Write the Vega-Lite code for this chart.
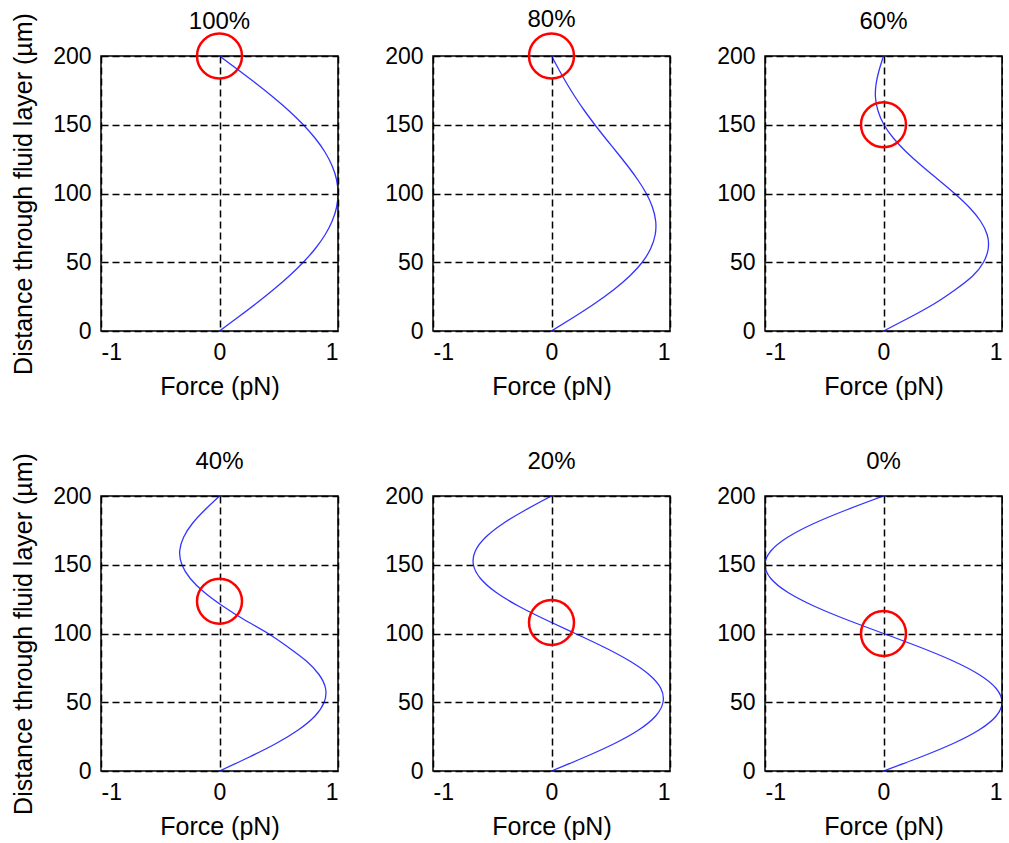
{
  "$schema": "https://vega.github.io/schema/vega-lite/v6.json",
  "autosize": {"type": "pad"},
  "padding": {"left": 10, "top": 6, "right": 0, "bottom": 0},
  "background": "white",
  "columns": 3,
  "spacing": {"row": 165, "column": 95},
  "bounds": "flush",
  "datasets": {
    "curves": [
      {"panel": "100%", "distance": 0, "force": 0}, {"panel": "100%", "distance": 10, "force": 0.156}, {"panel": "100%", "distance": 20, "force": 0.309}, {"panel": "100%", "distance": 30, "force": 0.454}, {"panel": "100%", "distance": 40, "force": 0.588}, {"panel": "100%", "distance": 50, "force": 0.707}, {"panel": "100%", "distance": 60, "force": 0.809}, {"panel": "100%", "distance": 70, "force": 0.891}, {"panel": "100%", "distance": 80, "force": 0.951}, {"panel": "100%", "distance": 90, "force": 0.988}, {"panel": "100%", "distance": 100, "force": 1.0}, {"panel": "100%", "distance": 110, "force": 0.988}, {"panel": "100%", "distance": 120, "force": 0.951}, {"panel": "100%", "distance": 130, "force": 0.891}, {"panel": "100%", "distance": 140, "force": 0.809}, {"panel": "100%", "distance": 150, "force": 0.707}, {"panel": "100%", "distance": 160, "force": 0.588}, {"panel": "100%", "distance": 170, "force": 0.454}, {"panel": "100%", "distance": 180, "force": 0.309}, {"panel": "100%", "distance": 190, "force": 0.156}, {"panel": "100%", "distance": 200, "force": 0},
      {"panel": "80%", "distance": 0, "force": 0}, {"panel": "80%", "distance": 10, "force": 0.187}, {"panel": "80%", "distance": 20, "force": 0.365}, {"panel": "80%", "distance": 30, "force": 0.525}, {"panel": "80%", "distance": 40, "force": 0.66}, {"panel": "80%", "distance": 50, "force": 0.766}, {"panel": "80%", "distance": 60, "force": 0.837}, {"panel": "80%", "distance": 70, "force": 0.875}, {"panel": "80%", "distance": 80, "force": 0.879}, {"panel": "80%", "distance": 90, "force": 0.852}, {"panel": "80%", "distance": 100, "force": 0.8}, {"panel": "80%", "distance": 110, "force": 0.728}, {"panel": "80%", "distance": 120, "force": 0.643}, {"panel": "80%", "distance": 130, "force": 0.551}, {"panel": "80%", "distance": 140, "force": 0.457}, {"panel": "80%", "distance": 150, "force": 0.366}, {"panel": "80%", "distance": 160, "force": 0.28}, {"panel": "80%", "distance": 170, "force": 0.201}, {"panel": "80%", "distance": 180, "force": 0.129}, {"panel": "80%", "distance": 190, "force": 0.063}, {"panel": "80%", "distance": 200, "force": 0},
      {"panel": "60%", "distance": 0, "force": 0}, {"panel": "60%", "distance": 10, "force": 0.224}, {"panel": "60%", "distance": 20, "force": 0.432}, {"panel": "60%", "distance": 30, "force": 0.605}, {"panel": "60%", "distance": 40, "force": 0.752}, {"panel": "60%", "distance": 50, "force": 0.844}, {"panel": "60%", "distance": 60, "force": 0.884}, {"panel": "60%", "distance": 70, "force": 0.875}, {"panel": "60%", "distance": 80, "force": 0.818}, {"panel": "60%", "distance": 90, "force": 0.723}, {"panel": "60%", "distance": 100, "force": 0.6}, {"panel": "60%", "distance": 110, "force": 0.463}, {"panel": "60%", "distance": 120, "force": 0.324}, {"panel": "60%", "distance": 130, "force": 0.195}, {"panel": "60%", "distance": 140, "force": 0.086}, {"panel": "60%", "distance": 150, "force": 0.004}, {"panel": "60%", "distance": 160, "force": -0.046}, {"panel": "60%", "distance": 170, "force": -0.068}, {"panel": "60%", "distance": 180, "force": -0.062}, {"panel": "60%", "distance": 190, "force": -0.036}, {"panel": "60%", "distance": 200, "force": 0},
      {"panel": "40%", "distance": 0, "force": 0}, {"panel": "40%", "distance": 10, "force": 0.248}, {"panel": "40%", "distance": 20, "force": 0.477}, {"panel": "40%", "distance": 30, "force": 0.667}, {"panel": "40%", "distance": 40, "force": 0.806}, {"panel": "40%", "distance": 50, "force": 0.883}, {"panel": "40%", "distance": 60, "force": 0.895}, {"panel": "40%", "distance": 70, "force": 0.841}, {"panel": "40%", "distance": 80, "force": 0.733}, {"panel": "40%", "distance": 90, "force": 0.58}, {"panel": "40%", "distance": 100, "force": 0.41}, {"panel": "40%", "distance": 110, "force": 0.21}, {"panel": "40%", "distance": 120, "force": 0.027}, {"panel": "40%", "distance": 130, "force": -0.129}, {"panel": "40%", "distance": 140, "force": -0.247}, {"panel": "40%", "distance": 150, "force": -0.317}, {"panel": "40%", "distance": 160, "force": -0.336}, {"panel": "40%", "distance": 170, "force": -0.303}, {"panel": "40%", "distance": 180, "force": -0.229}, {"panel": "40%", "distance": 190, "force": -0.122}, {"panel": "40%", "distance": 200, "force": 0},
      {"panel": "20%", "distance": 0, "force": 0}, {"panel": "20%", "distance": 10, "force": 0.278}, {"panel": "20%", "distance": 20, "force": 0.532}, {"panel": "20%", "distance": 30, "force": 0.738}, {"panel": "20%", "distance": 40, "force": 0.879}, {"panel": "20%", "distance": 50, "force": 0.941}, {"panel": "20%", "distance": 60, "force": 0.923}, {"panel": "20%", "distance": 70, "force": 0.825}, {"panel": "20%", "distance": 80, "force": 0.66}, {"panel": "20%", "distance": 90, "force": 0.445}, {"panel": "20%", "distance": 100, "force": 0.2}, {"panel": "20%", "distance": 110, "force": -0.049}, {"panel": "20%", "distance": 120, "force": -0.28}, {"panel": "20%", "distance": 130, "force": -0.469}, {"panel": "20%", "distance": 140, "force": -0.599}, {"panel": "20%", "distance": 150, "force": -0.659}, {"panel": "20%", "distance": 160, "force": -0.643}, {"panel": "20%", "distance": 170, "force": -0.556}, {"panel": "20%", "distance": 180, "force": -0.408}, {"panel": "20%", "distance": 190, "force": -0.216}, {"panel": "20%", "distance": 200, "force": 0},
      {"panel": "0%", "distance": 0, "force": 0}, {"panel": "0%", "distance": 10, "force": 0.309}, {"panel": "0%", "distance": 20, "force": 0.588}, {"panel": "0%", "distance": 30, "force": 0.809}, {"panel": "0%", "distance": 40, "force": 0.951}, {"panel": "0%", "distance": 50, "force": 1.0}, {"panel": "0%", "distance": 60, "force": 0.951}, {"panel": "0%", "distance": 70, "force": 0.809}, {"panel": "0%", "distance": 80, "force": 0.588}, {"panel": "0%", "distance": 90, "force": 0.309}, {"panel": "0%", "distance": 100, "force": 0}, {"panel": "0%", "distance": 110, "force": -0.309}, {"panel": "0%", "distance": 120, "force": -0.588}, {"panel": "0%", "distance": 130, "force": -0.809}, {"panel": "0%", "distance": 140, "force": -0.951}, {"panel": "0%", "distance": 150, "force": -1.0}, {"panel": "0%", "distance": 160, "force": -0.951}, {"panel": "0%", "distance": 170, "force": -0.809}, {"panel": "0%", "distance": 180, "force": -0.588}, {"panel": "0%", "distance": 190, "force": -0.309}, {"panel": "0%", "distance": 200, "force": 0}
    ],
    "markers": [
      {"panel": "100%", "distance": 200, "force": 0},
      {"panel": "80%", "distance": 200, "force": 0},
      {"panel": "60%", "distance": 150, "force": 0},
      {"panel": "40%", "distance": 123.5, "force": 0},
      {"panel": "20%", "distance": 108, "force": 0},
      {"panel": "0%", "distance": 100, "force": 0}
    ]
  },
  "config": {
    "font": "Liberation Sans",
    "view": {"stroke": "black", "strokeWidth": 1.5},
    "axis": {
      "grid": true, "gridColor": "black", "gridDash": [7, 4], "gridWidth": 1.5, "gridOpacity": 1,
      "ticks": false, "domain": false,
      "labelFontSize": 23, "labelColor": "black", "labelPadding": 10,
      "labelExpr": "'' + datum.value",
      "titleFontSize": 25, "titleFontWeight": "normal", "titleColor": "black", "titlePadding": 10
    },
    "axisLeft": {"titlePadding": 16},
    "title": {"fontSize": 24, "fontWeight": "normal", "color": "black", "offset": 28, "baseline": "alphabetic"}
  },
  "concat": [
    {
      "title": {"text": "100%", "dy": 49}, "width": 237, "height": 275,
      "layer": [
        {"data": {"name": "curves"}, "transform": [{"filter": "datum.panel === '100%'"}],
         "mark": {"type": "line", "color": "#0000ff", "strokeWidth": 1.3, "opacity": 0.8, "interpolate": "natural", "clip": true},
         "encoding": {
           "x": {"field": "force", "type": "quantitative", "scale": {"domain": [-1, 1], "nice": false}, "axis": {"values": [-1, 0, 1], "title": "Force (pN)"}},
           "y": {"field": "distance", "type": "quantitative", "scale": {"domain": [0, 200], "nice": false}, "axis": {"values": [0, 50, 100, 150, 200], "title": "Distance through fluid layer (µm)"}},
           "order": {"field": "distance", "type": "quantitative"}}},
        {"data": {"name": "markers"}, "transform": [{"filter": "datum.panel === '100%'"}],
         "mark": {"type": "point", "shape": "circle", "filled": false, "size": 2025, "stroke": "#ff0000", "strokeWidth": 2.5, "opacity": 1},
         "encoding": {"x": {"field": "force", "type": "quantitative"}, "y": {"field": "distance", "type": "quantitative"}}}
      ]
    },
    {
      "title": {"text": "80%", "dy": 31}, "width": 237, "height": 275,
      "layer": [
        {"data": {"name": "curves"}, "transform": [{"filter": "datum.panel === '80%'"}],
         "mark": {"type": "line", "color": "#0000ff", "strokeWidth": 1.3, "opacity": 0.8, "interpolate": "natural", "clip": true},
         "encoding": {
           "x": {"field": "force", "type": "quantitative", "scale": {"domain": [-1, 1], "nice": false}, "axis": {"values": [-1, 0, 1], "title": "Force (pN)"}},
           "y": {"field": "distance", "type": "quantitative", "scale": {"domain": [0, 200], "nice": false}, "axis": {"values": [0, 50, 100, 150, 200], "title": null}},
           "order": {"field": "distance", "type": "quantitative"}}},
        {"data": {"name": "markers"}, "transform": [{"filter": "datum.panel === '80%'"}],
         "mark": {"type": "point", "shape": "circle", "filled": false, "size": 2025, "stroke": "#ff0000", "strokeWidth": 2.5, "opacity": 1},
         "encoding": {"x": {"field": "force", "type": "quantitative"}, "y": {"field": "distance", "type": "quantitative"}}}
      ]
    },
    {
      "title": {"text": "60%", "dy": 17}, "width": 237, "height": 275,
      "layer": [
        {"data": {"name": "curves"}, "transform": [{"filter": "datum.panel === '60%'"}],
         "mark": {"type": "line", "color": "#0000ff", "strokeWidth": 1.3, "opacity": 0.8, "interpolate": "natural", "clip": true},
         "encoding": {
           "x": {"field": "force", "type": "quantitative", "scale": {"domain": [-1, 1], "nice": false}, "axis": {"values": [-1, 0, 1], "title": "Force (pN)"}},
           "y": {"field": "distance", "type": "quantitative", "scale": {"domain": [0, 200], "nice": false}, "axis": {"values": [0, 50, 100, 150, 200], "title": null}},
           "order": {"field": "distance", "type": "quantitative"}}},
        {"data": {"name": "markers"}, "transform": [{"filter": "datum.panel === '60%'"}],
         "mark": {"type": "point", "shape": "circle", "filled": false, "size": 2025, "stroke": "#ff0000", "strokeWidth": 2.5, "opacity": 1},
         "encoding": {"x": {"field": "force", "type": "quantitative"}, "y": {"field": "distance", "type": "quantitative"}}}
      ]
    },
    {
      "title": {"text": "40%", "dy": 49}, "width": 237, "height": 275,
      "layer": [
        {"data": {"name": "curves"}, "transform": [{"filter": "datum.panel === '40%'"}],
         "mark": {"type": "line", "color": "#0000ff", "strokeWidth": 1.3, "opacity": 0.8, "interpolate": "natural", "clip": true},
         "encoding": {
           "x": {"field": "force", "type": "quantitative", "scale": {"domain": [-1, 1], "nice": false}, "axis": {"values": [-1, 0, 1], "title": "Force (pN)"}},
           "y": {"field": "distance", "type": "quantitative", "scale": {"domain": [0, 200], "nice": false}, "axis": {"values": [0, 50, 100, 150, 200], "title": "Distance through fluid layer (µm)"}},
           "order": {"field": "distance", "type": "quantitative"}}},
        {"data": {"name": "markers"}, "transform": [{"filter": "datum.panel === '40%'"}],
         "mark": {"type": "point", "shape": "circle", "filled": false, "size": 2025, "stroke": "#ff0000", "strokeWidth": 2.5, "opacity": 1},
         "encoding": {"x": {"field": "force", "type": "quantitative"}, "y": {"field": "distance", "type": "quantitative"}}}
      ]
    },
    {
      "title": {"text": "20%", "dy": 17}, "width": 237, "height": 275,
      "layer": [
        {"data": {"name": "curves"}, "transform": [{"filter": "datum.panel === '20%'"}],
         "mark": {"type": "line", "color": "#0000ff", "strokeWidth": 1.3, "opacity": 0.8, "interpolate": "natural", "clip": true},
         "encoding": {
           "x": {"field": "force", "type": "quantitative", "scale": {"domain": [-1, 1], "nice": false}, "axis": {"values": [-1, 0, 1], "title": "Force (pN)"}},
           "y": {"field": "distance", "type": "quantitative", "scale": {"domain": [0, 200], "nice": false}, "axis": {"values": [0, 50, 100, 150, 200], "title": null}},
           "order": {"field": "distance", "type": "quantitative"}}},
        {"data": {"name": "markers"}, "transform": [{"filter": "datum.panel === '20%'"}],
         "mark": {"type": "point", "shape": "circle", "filled": false, "size": 2025, "stroke": "#ff0000", "strokeWidth": 2.5, "opacity": 1},
         "encoding": {"x": {"field": "force", "type": "quantitative"}, "y": {"field": "distance", "type": "quantitative"}}}
      ]
    },
    {
      "title": {"text": "0%", "dy": 17}, "width": 237, "height": 275,
      "layer": [
        {"data": {"name": "curves"}, "transform": [{"filter": "datum.panel === '0%'"}],
         "mark": {"type": "line", "color": "#0000ff", "strokeWidth": 1.3, "opacity": 0.8, "interpolate": "natural", "clip": true},
         "encoding": {
           "x": {"field": "force", "type": "quantitative", "scale": {"domain": [-1, 1], "nice": false}, "axis": {"values": [-1, 0, 1], "title": "Force (pN)"}},
           "y": {"field": "distance", "type": "quantitative", "scale": {"domain": [0, 200], "nice": false}, "axis": {"values": [0, 50, 100, 150, 200], "title": null}},
           "order": {"field": "distance", "type": "quantitative"}}},
        {"data": {"name": "markers"}, "transform": [{"filter": "datum.panel === '0%'"}],
         "mark": {"type": "point", "shape": "circle", "filled": false, "size": 2025, "stroke": "#ff0000", "strokeWidth": 2.5, "opacity": 1},
         "encoding": {"x": {"field": "force", "type": "quantitative"}, "y": {"field": "distance", "type": "quantitative"}}}
      ]
    }
  ]
}
